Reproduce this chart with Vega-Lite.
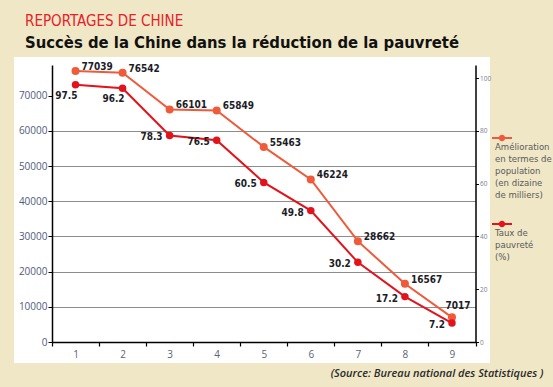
{
  "$schema": "https://vega.github.io/schema/vega-lite/v6.json",
  "width": 476,
  "height": 306,
  "autosize": {"type": "none"},
  "padding": {"left": 14, "top": 57, "right": 63, "bottom": 24},
  "background": "#EFE7C6",
  "config": {
    "view": {"fill": "white", "stroke": null},
    "title": {"anchor": "start", "frame": "group"}
  },
  "title": {
    "text": "REPORTAGES DE CHINE",
    "subtitle": "Succès de la Chine dans la réduction de la pauvreté",
    "anchor": "start",
    "dx": 11,
    "offset": 6,
    "font": "DejaVu Sans Condensed, Roboto",
    "fontSize": 15,
    "fontWeight": "normal",
    "color": "#E8202A",
    "subtitleFont": "DejaVu Sans Condensed, Roboto",
    "subtitleFontSize": 16.5,
    "subtitleFontWeight": "bold",
    "subtitleColor": "#111111",
    "subtitlePadding": 6
  },
  "data": {
    "values": [
      {"periode": 1, "population": 77039, "taux": 97.5},
      {"periode": 2, "population": 76542, "taux": 96.2},
      {"periode": 3, "population": 66101, "taux": 78.3},
      {"periode": 4, "population": 65849, "taux": 76.5},
      {"periode": 5, "population": 55463, "taux": 60.5},
      {"periode": 6, "population": 46224, "taux": 49.8},
      {"periode": 7, "population": 28662, "taux": 30.2},
      {"periode": 8, "population": 16567, "taux": 17.2},
      {"periode": 9, "population": 7017, "taux": 7.2}
    ]
  },
  "encoding": {
    "x": {
      "field": "periode",
      "type": "ordinal",
      "scale": {"range": [38, 461.5], "paddingInner": 0, "paddingOuter": 0},
      "axis": {
        "title": "(Source: Bureau national des Statistiques )",
        "labelAngle": 0,
        "offset": -21,
        "domainColor": "#000000",
        "domainWidth": 1.5,
        "tickColor": "#000000",
        "tickWidth": 1.2,
        "tickSize": 4,
        "tickBand": "extent",
        "labelColor": "#5a6478",
        "labelFont": "Open Sans",
        "labelFontSize": 10,
        "labelPadding": 3,
        "titleX": 529,
        "titleY": 31,
        "titleAlign": "right",
        "titleBaseline": "middle",
        "titleFont": "Open Sans",
        "titleFontStyle": "italic",
        "titleFontWeight": 600,
        "titleFontSize": 11,
        "titleColor": "#2a2a2a",
        "grid": false
      }
    }
  },
  "layer": [
    {
      "encoding": {
        "y": {
          "field": "population",
          "type": "quantitative",
          "scale": {"domain": [0, 78750], "range": [285, 8], "nice": false, "zero": true},
          "axis": {
            "orient": "left",
            "title": null,
            "offset": -38,
            "format": "d",
            "values": [0, 10000, 20000, 30000, 40000, 50000, 60000, 70000],
            "domainColor": "#000000",
            "domainWidth": 1.5,
            "tickColor": "#000000",
            "tickSize": 4,
            "labelPadding": 1,
            "labelColor": "#4f5b7a",
            "labelFont": "Open Sans",
            "labelFontSize": 10,
            "grid": true,
            "gridColor": {"condition": {"test": "datum.value >= 70000 || datum.value == 0", "value": "transparent"}, "value": "#8c8c8c"},
            "gridWidth": 1.2
          }
        }
      },
      "layer": [
        {
          "mark": {"type": "line", "strokeWidth": 2},
          "encoding": {
            "color": {
              "datum": "Amélioration en termes de population (en dizaine de milliers)",
              "scale": {
                "domain": ["Amélioration en termes de population (en dizaine de milliers)", "Taux de pauvreté (%)"],
                "range": ["#F05A3A", "#E3121B"]
              },
              "legend": {
                "orient": "none",
                "legendX": 478,
                "legendY": 71,
                "title": null,
                "symbolType": "M-1,-0.11H1V0.11H-1Z M0.32,0A0.32,0.32 0 1,1 -0.32,0A0.32,0.32 0 1,1 0.32,0Z",
                "symbolSize": 400,
                "labelFont": "DejaVu Sans Condensed, Roboto",
                "labelFontSize": 9.5,
                "labelColor": "#5a5a5a",
                "labelLimit": 300,
                "labelBaseline": "top",
                "rowPadding": 14,
                "labelExpr": "datum.label == 'Taux de pauvreté (%)' ? ['Taux de', 'pauvreté', '(%)'] : ['Amélioration', 'en termes de', 'population', '(en dizaine', 'de milliers)']",
                "encode": {
                  "symbols": {"update": {"fill": {"scale": "color", "field": "value"}, "strokeWidth": {"value": 0}}},
                  "labels": {"update": {"dx": {"value": -21}, "dy": {"value": 4}, "lineHeight": {"value": 12}}}
                }
              }
            }
          }
        },
        {
          "mark": {"type": "point", "filled": true, "opacity": 1, "size": 64, "color": "#F05A3A"}
        },
        {
          "transform": [{"filter": "datum.periode < 9"}],
          "mark": {"type": "text", "align": "left", "baseline": "middle", "dx": 6, "dy": -4, "font": "DejaVu Sans Condensed, Roboto", "fontWeight": "bold", "fontSize": 10, "color": "#1c1c28"},
          "encoding": {"text": {"field": "population", "type": "quantitative", "format": "d"}}
        },
        {
          "transform": [{"filter": "datum.periode == 9"}],
          "mark": {"type": "text", "align": "center", "baseline": "middle", "dx": 6, "dy": -11, "font": "DejaVu Sans Condensed, Roboto", "fontWeight": "bold", "fontSize": 10, "color": "#1c1c28"},
          "encoding": {"text": {"field": "population", "type": "quantitative", "format": "d"}}
        }
      ]
    },
    {
      "encoding": {
        "y": {
          "field": "taux",
          "type": "quantitative",
          "scale": {"domain": [0, 105], "range": [285, 8], "nice": false, "zero": true},
          "axis": {
            "orient": "right",
            "title": null,
            "offset": -14.5,
            "values": [0, 20, 40, 60, 80, 100],
            "domainColor": "#000000",
            "domainWidth": 1.5,
            "tickColor": "#000000",
            "tickSize": 3,
            "labelPadding": 1,
            "labelColor": "#7a8090",
            "labelFont": "Open Sans",
            "labelFontSize": 6.5,
            "grid": false
          }
        }
      },
      "layer": [
        {
          "mark": {"type": "line", "strokeWidth": 2},
          "encoding": {"color": {"datum": "Taux de pauvreté (%)"}}
        },
        {
          "mark": {"type": "point", "filled": true, "opacity": 1, "size": 56, "color": "#E3121B"}
        },
        {
          "transform": [{"filter": "datum.periode <= 2"}],
          "mark": {"type": "text", "align": "right", "baseline": "middle", "dx": 2, "dy": 11, "font": "DejaVu Sans Condensed, Roboto", "fontWeight": "bold", "fontSize": 10, "color": "#1c1c28"},
          "encoding": {"text": {"field": "taux", "type": "quantitative", "format": ".1f"}}
        },
        {
          "transform": [{"filter": "datum.periode > 2"}],
          "mark": {"type": "text", "align": "right", "baseline": "middle", "dx": -7, "dy": 2, "font": "DejaVu Sans Condensed, Roboto", "fontWeight": "bold", "fontSize": 10, "color": "#1c1c28"},
          "encoding": {"text": {"field": "taux", "type": "quantitative", "format": ".1f"}}
        }
      ]
    }
  ],
  "resolve": {"scale": {"y": "independent"}}
}
